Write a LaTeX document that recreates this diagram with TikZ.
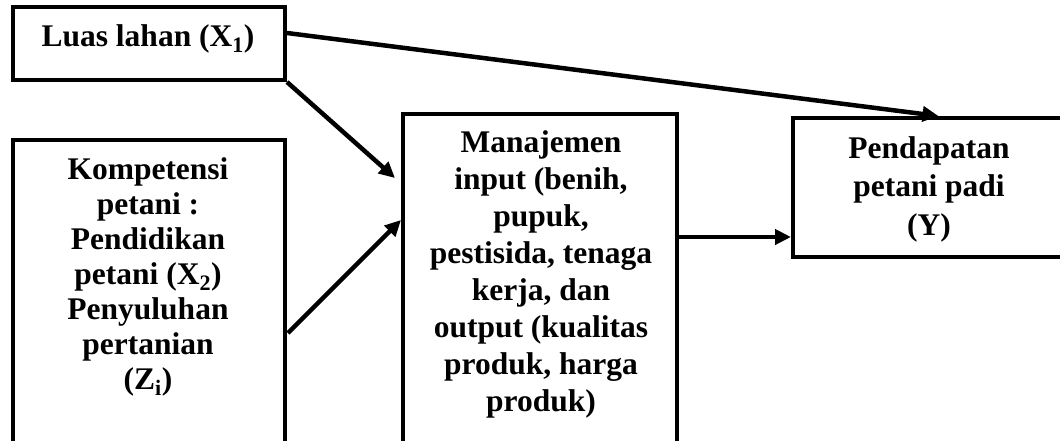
\documentclass[tikz,border=0pt]{standalone}
\usepackage{fontspec}
\setmainfont{Liberation Serif}
\usetikzlibrary{arrows.meta}
\begin{document}
\begin{tikzpicture}[x=1pt,y=-1pt,
  box/.style={draw=black,line width=4pt,rectangle,inner sep=0pt,fill=white},
  lbl/.style={align=center,inner sep=0pt,font=\bfseries\fontsize{31.5}{36}\selectfont},
  arr/.style={line width=4.5pt,-{Triangle[length=16pt,width=15pt]}}]
\useasboundingbox (0,0) rectangle (1060,440);
\clip (0,0) rectangle (1060,440);
% boxes
\node[box,minimum width=272pt,minimum height=73pt] (A) at (149,43.5) {};
\node[box,minimum width=272pt,minimum height=310pt] (B) at (149,295) {};
\node[box,minimum width=274pt,minimum height=336pt] (C) at (540,282) {};
\node[box,minimum width=277pt,minimum height=139pt] (D) at (931.5,187.5) {};
% texts
\node[lbl] (tA) at (148,38.5) {Luas lahan (X\textsubscript{1})};
\node[lbl,font=\bfseries\fontsize{31.5}{35}\selectfont,anchor=north] (tB) at (148,157)
  {Kompetensi\\petani :\\Pendidikan\\petani (X\textsubscript{2})\\Penyuluhan\\pertanian\\(Z\textsubscript{i})};
\node[lbl,font=\bfseries\fontsize{31.5}{37}\selectfont,anchor=north] (tC) at (541,130)
  {Manajemen\\input (benih,\\pupuk,\\pestisida, tenaga\\kerja, dan\\output (kualitas\\produk, harga\\produk)};
\node[lbl,font=\bfseries\fontsize{31.5}{38.5}\selectfont,anchor=north] (tD) at (929,136)
  {Pendapatan\\petani padi\\(Y)};
% connectors
\draw[arr] ([yshift=10.5pt]A.east) -- ([xshift=7pt]D.north);
\draw[arr] (A.south east) -- ([xshift=-6pt,yshift=104pt]C.west);
\draw[arr] ([xshift=1pt,yshift=-38pt]B.east) -- ([yshift=62pt]C.west);
\draw[arr] ([yshift=45pt]C.east) -- ([yshift=-49.5pt]D.west);
\end{tikzpicture}
\end{document}
